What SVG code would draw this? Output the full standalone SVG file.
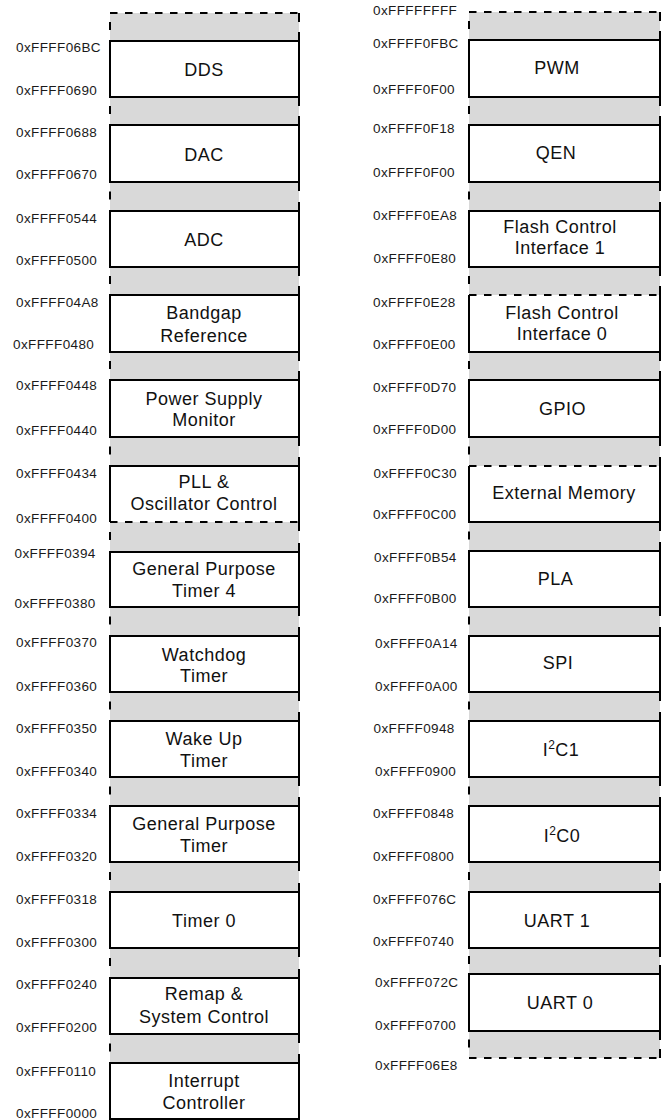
<svg xmlns="http://www.w3.org/2000/svg" width="666" height="1120" viewBox="0 0 666 1120">
<style>
.bg{fill:#ffffff}
.gray{fill:#d9d9d9}
.box{fill:#ffffff;stroke:#000;stroke-width:2}
.wf{fill:#ffffff}
.edge{fill:none;stroke:#000;stroke-width:2}
.dash{fill:none;stroke:#000;stroke-width:2;stroke-dasharray:7.5 7.5}
.addr{font-family:"Liberation Sans",Arial,Helvetica,sans-serif;font-size:13.5px;letter-spacing:0.4px;fill:#1a1a1a}
.lbl{font-family:"Liberation Sans",Arial,Helvetica,sans-serif;font-size:18px;letter-spacing:0.5px;text-anchor:middle;fill:#111}
</style>
<rect class="bg" x="0" y="0" width="666" height="1120"/>
<g id="left-column">
<rect class="gray" x="110" y="13" width="189" height="1106"/>
<line class="dash" x1="110" y1="13" x2="299" y2="13"/>
<path class="edge" d="M110 22V30M110 106V114M110 191.5V199.5M110 276V284M110 361V369M110 446.5V454.5M110 532V540M110 616.5V624.5M110 701.5V709.5M110 786.5V794.5M110 872V880M110 958V966M110 1043.5V1051.5"/>
<path class="edge" d="M299 13V22M299 32V41M299 97V106M299 116V125M299 182V191M299 202V211M299 267V276M299 286V295M299 352V361M299 371V380M299 437V446M299 457V466M299 522V531M299 543V552M299 607V616M299 627V636M299 692V701M299 712V721M299 777V786M299 797V806M299 862V871M299 883V892M299 948V957M299 969V978M299 1034V1043M299 1054V1063"/>
</g>
<g id="right-column">
<rect class="gray" x="469" y="12" width="191" height="1046"/>
<line class="dash" x1="469" y1="12" x2="660" y2="12"/>
<line class="dash" x1="469" y1="1058" x2="660" y2="1058"/>
<path class="edge" d="M469 21V29M469 106V114M469 191.5V199.5M469 276V284M469 361V369M469 446.5V454.5M469 531.5V539.5M469 616.5V624.5M469 701.5V709.5M469 786.5V794.5M469 872V880M469 956V964M469 1039.5V1047.5"/>
<path class="edge" d="M660 12V21M660 31V40M660 97V106M660 116V125M660 182V191M660 202V211M660 267V276M660 286V295M660 352V361M660 371V380M660 437V446M660 457V466M660 522V531M660 542V551M660 607V616M660 627V636M660 692V701M660 712V721M660 777V786M660 797V806M660 862V871M660 883V892M660 948V957M660 965V974M660 1031V1040M660 1049V1058"/>
</g>
<g id="connectors"></g>

<!-- Left column nodes -->
<g id="node-dds"><rect class="box" x="110" y="41" width="189" height="56"/><text class="lbl" x="204" y="76">DDS</text></g>
<g id="node-dac"><rect class="box" x="110" y="125" width="189" height="57"/><text class="lbl" x="204" y="161">DAC</text></g>
<g id="node-adc"><rect class="box" x="110" y="211" width="189" height="56"/><text class="lbl" x="204" y="246">ADC</text></g>
<g id="node-bandgap"><rect class="box" x="110" y="295" width="189" height="57"/><text class="lbl" x="204" y="319">Bandgap</text><text class="lbl" x="204" y="341.5">Reference</text></g>
<g id="node-psm"><rect class="box" x="110" y="380" width="189" height="57"/><text class="lbl" x="204" y="405">Power Supply</text><text class="lbl" x="204" y="426">Monitor</text></g>
<g id="node-pll"><rect class="wf" x="110" y="466" width="189" height="56"/><path class="edge" d="M110 522V466H299V522"/><line class="dash" x1="110" y1="522" x2="299" y2="522"/><text class="lbl" x="204" y="488">PLL &amp;</text><text class="lbl" x="204" y="510">Oscillator Control</text></g>
<g id="node-gpt4"><rect class="box" x="110" y="552" width="189" height="55"/><text class="lbl" x="204" y="575">General Purpose</text><text class="lbl" x="204" y="597">Timer 4</text></g>
<g id="node-watchdog"><rect class="box" x="110" y="636" width="189" height="56"/><text class="lbl" x="204" y="660.5">Watchdog</text><text class="lbl" x="204" y="681.5">Timer</text></g>
<g id="node-wakeup"><rect class="box" x="110" y="721" width="189" height="56"/><text class="lbl" x="204" y="744.5">Wake Up</text><text class="lbl" x="204" y="766.5">Timer</text></g>
<g id="node-gpt"><rect class="box" x="110" y="806" width="189" height="56"/><text class="lbl" x="204" y="830">General Purpose</text><text class="lbl" x="204" y="851.5">Timer</text></g>
<g id="node-timer0"><rect class="box" x="110" y="892" width="189" height="56"/><text class="lbl" x="204" y="927">Timer 0</text></g>
<g id="node-remap"><rect class="box" x="110" y="978" width="189" height="56"/><text class="lbl" x="204" y="1000">Remap &amp;</text><text class="lbl" x="204" y="1023">System Control</text></g>
<g id="node-interrupt"><rect class="box" x="110" y="1063" width="189" height="56"/><text class="lbl" x="204" y="1086.5">Interrupt</text><text class="lbl" x="204" y="1109">Controller</text></g>

<!-- Right column nodes -->
<g id="node-pwm"><rect class="box" x="469" y="40" width="191" height="57"/><text class="lbl" x="557" y="73.5">PWM</text></g>
<g id="node-qen"><rect class="box" x="469" y="125" width="191" height="57"/><text class="lbl" x="556" y="158.5">QEN</text></g>
<g id="node-fci1"><rect class="box" x="469" y="211" width="191" height="56"/><text class="lbl" x="560" y="232.5">Flash Control</text><text class="lbl" x="560" y="253.5">Interface 1</text></g>
<g id="node-fci0"><rect class="wf" x="469" y="295" width="191" height="57"/><path class="edge" d="M469 295V352H660V295"/><line class="dash" x1="469" y1="295" x2="660" y2="295"/><text class="lbl" x="562" y="318.5">Flash Control</text><text class="lbl" x="562" y="340">Interface 0</text></g>
<g id="node-gpio"><rect class="box" x="469" y="380" width="191" height="57"/><text class="lbl" x="562.5" y="414.5">GPIO</text></g>
<g id="node-extmem"><rect class="wf" x="469" y="466" width="191" height="56"/><path class="edge" d="M469 466V522H660V466"/><line class="dash" x1="469" y1="466" x2="660" y2="466"/><text class="lbl" x="564" y="498.5">External Memory</text></g>
<g id="node-pla"><rect class="box" x="469" y="551" width="191" height="56"/><text class="lbl" x="555.5" y="585">PLA</text></g>
<g id="node-spi"><rect class="box" x="469" y="636" width="191" height="56"/><text class="lbl" x="558" y="668.5">SPI</text></g>
<g id="node-i2c1"><rect class="box" x="469" y="721" width="191" height="56"/><text class="lbl" x="561" y="755.5">I<tspan font-size="12" dy="-7">2</tspan><tspan dy="7">C1</tspan></text></g>
<g id="node-i2c0"><rect class="box" x="469" y="806" width="191" height="56"/><text class="lbl" x="562" y="841.5">I<tspan font-size="12" dy="-7">2</tspan><tspan dy="7">C0</tspan></text></g>
<g id="node-uart1"><rect class="box" x="469" y="892" width="191" height="56"/><text class="lbl" x="557" y="926.5">UART 1</text></g>
<g id="node-uart0"><rect class="box" x="469" y="974" width="191" height="57"/><text class="lbl" x="560" y="1008.5">UART 0</text></g>

<g id="addresses-left">
<text class="addr" x="16" y="52">0xFFFF06BC</text>
<text class="addr" x="16" y="95">0xFFFF0690</text>
<text class="addr" x="16" y="137">0xFFFF0688</text>
<text class="addr" x="16" y="179">0xFFFF0670</text>
<text class="addr" x="16" y="223">0xFFFF0544</text>
<text class="addr" x="16" y="265">0xFFFF0500</text>
<text class="addr" x="16" y="307">0xFFFF04A8</text>
<text class="addr" x="13" y="349">0xFFFF0480</text>
<text class="addr" x="16" y="390">0xFFFF0448</text>
<text class="addr" x="16" y="435">0xFFFF0440</text>
<text class="addr" x="16" y="478">0xFFFF0434</text>
<text class="addr" x="16" y="523">0xFFFF0400</text>
<text class="addr" x="14.5" y="558">0xFFFF0394</text>
<text class="addr" x="14.5" y="608">0xFFFF0380</text>
<text class="addr" x="16" y="647">0xFFFF0370</text>
<text class="addr" x="16" y="691">0xFFFF0360</text>
<text class="addr" x="16" y="733">0xFFFF0350</text>
<text class="addr" x="16" y="776">0xFFFF0340</text>
<text class="addr" x="16" y="818">0xFFFF0334</text>
<text class="addr" x="16" y="861">0xFFFF0320</text>
<text class="addr" x="16" y="904">0xFFFF0318</text>
<text class="addr" x="16" y="947">0xFFFF0300</text>
<text class="addr" x="16" y="989">0xFFFF0240</text>
<text class="addr" x="16" y="1032">0xFFFF0200</text>
<text class="addr" x="16" y="1076">0xFFFF0110</text>
<text class="addr" x="16" y="1118">0xFFFF0000</text>
</g>
<g id="addresses-right">
<text class="addr" x="373" y="15">0xFFFFFFFF</text>
<text class="addr" x="373" y="48">0xFFFF0FBC</text>
<text class="addr" x="373" y="94">0xFFFF0F00</text>
<text class="addr" x="373" y="133">0xFFFF0F18</text>
<text class="addr" x="373" y="177">0xFFFF0F00</text>
<text class="addr" x="373" y="220">0xFFFF0EA8</text>
<text class="addr" x="373.5" y="263">0xFFFF0E80</text>
<text class="addr" x="373" y="307">0xFFFF0E28</text>
<text class="addr" x="373" y="349">0xFFFF0E00</text>
<text class="addr" x="373" y="392">0xFFFF0D70</text>
<text class="addr" x="373" y="434">0xFFFF0D00</text>
<text class="addr" x="373.5" y="478">0xFFFF0C30</text>
<text class="addr" x="373" y="519">0xFFFF0C00</text>
<text class="addr" x="374" y="562">0xFFFF0B54</text>
<text class="addr" x="374" y="603">0xFFFF0B00</text>
<text class="addr" x="375" y="648">0xFFFF0A14</text>
<text class="addr" x="375" y="691">0xFFFF0A00</text>
<text class="addr" x="373.5" y="733">0xFFFF0948</text>
<text class="addr" x="375" y="776">0xFFFF0900</text>
<text class="addr" x="373" y="818">0xFFFF0848</text>
<text class="addr" x="373" y="861">0xFFFF0800</text>
<text class="addr" x="373" y="904">0xFFFF076C</text>
<text class="addr" x="373" y="946">0xFFFF0740</text>
<text class="addr" x="375" y="987">0xFFFF072C</text>
<text class="addr" x="375" y="1030">0xFFFF0700</text>
<text class="addr" x="375" y="1070">0xFFFF06E8</text>
</g>
</svg>
